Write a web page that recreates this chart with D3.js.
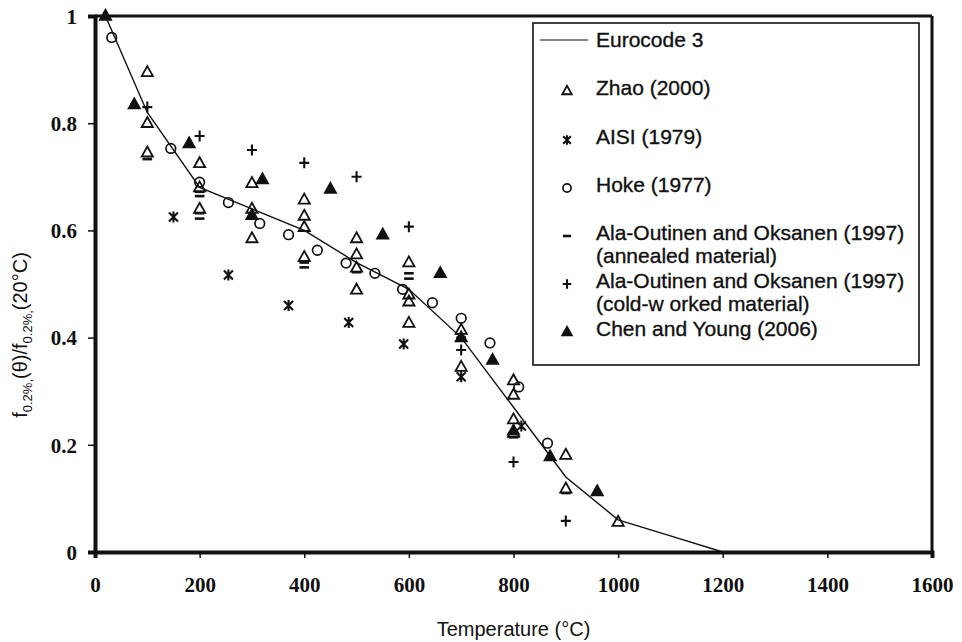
<!DOCTYPE html>
<html>
<head>
<meta charset="utf-8">
<script src="https://cdn.jsdelivr.net/npm/d3@7"></script>
<style>
  body { margin: 0; background: #fff; }
  svg { display: block; }
</style>
</head>
<body>
<svg id="chart" width="962" height="642"></svg>
<script>
// Axis ticks
const xTicks = [0, 200, 400, 600, 800, 1000, 1200, 1400, 1600];
const yTicks = [0, 0.2, 0.4, 0.6, 0.8, 1];
const yTickLabels = ["0", "0.2", "0.4", "0.6", "0.8", "1"];

// Eurocode 3 reduction factor curve (temperature, k0.2)
const eurocodeTemp = [20, 100, 200, 300, 400, 500, 600, 700, 800, 900, 1000, 1100, 1200];
const eurocodeK = [1.00, 0.82, 0.68, 0.64, 0.60, 0.54, 0.49, 0.40, 0.27, 0.14, 0.06, 0.03, 0];

// Test data: [temperature, f0.2(θ)/f0.2(20°C)]
const zhao2000 = [
  [100, 0.895], [100, 0.80], [100, 0.745],
  [200, 0.725], [200, 0.68], [200, 0.64],
  [300, 0.688], [300, 0.64], [300, 0.585],
  [400, 0.657], [400, 0.627], [400, 0.606], [400, 0.55],
  [500, 0.585], [500, 0.555], [500, 0.53], [500, 0.489],
  [600, 0.54], [600, 0.48], [600, 0.467], [600, 0.427],
  [700, 0.414], [700, 0.345],
  [800, 0.32], [800, 0.293], [800, 0.247], [800, 0.222],
  [900, 0.181], [900, 0.118], [1000, 0.056]
];
const aisi1979 = [
  [150, 0.625], [255, 0.517], [370, 0.46], [485, 0.428],
  [590, 0.388], [700, 0.327], [815, 0.235]
];
const hoke1977 = [
  [32, 0.96], [145, 0.753], [200, 0.69], [255, 0.652], [315, 0.613],
  [370, 0.592], [425, 0.563], [480, 0.539], [535, 0.52], [588, 0.49],
  [645, 0.465], [700, 0.436], [755, 0.39], [810, 0.308], [865, 0.203]
];
const alaAnnealed = [
  [100, 0.733], [200, 0.672], [200, 0.664], [200, 0.632], [200, 0.622],
  [400, 0.54], [400, 0.531], [500, 0.522], [600, 0.52], [600, 0.51],
  [700, 0.40], [800, 0.214], [900, 0.11]
];
const alaColdWorked = [
  [100, 0.83], [200, 0.776], [300, 0.75], [400, 0.726], [500, 0.70],
  [600, 0.607], [700, 0.377], [800, 0.168], [900, 0.058]
];
const chenYoung2006 = [
  [20, 1.0], [75, 0.835], [180, 0.762], [300, 0.628], [320, 0.695],
  [450, 0.677], [550, 0.592], [660, 0.52], [700, 0.40], [760, 0.358],
  [800, 0.226], [870, 0.178], [960, 0.113]
];

// Legend entries
const legendLabels = [
  ["Eurocode 3"],
  ["Zhao (2000)"],
  ["AISI (1979)"],
  ["Hoke (1977)"],
  ["Ala-Outinen and Oksanen (1997)", "(annealed material)"],
  ["Ala-Outinen and Oksanen (1997)", "(cold-w orked material)"],
  ["Chen and Young (2006)"]
];

const svg = d3.select("#chart");
const plotLeft = 95, plotRight = 932, plotTop = 16, plotBottom = 552;

const x = d3.scaleLinear().domain([0, 1600]).range([plotLeft, plotRight]);
const y = d3.scaleLinear().domain([0, 1]).range([plotBottom, plotTop]);

const ink = "#111";

// Marker drawing helpers
function drawMarker(g, kind, s) {
  s = s || 1;
  if (kind === "triOpen" || kind === "triFilled") {
    g.append("path")
      .attr("d", `M0,${-6.2 * s}L${5.6 * s},${3.8 * s}L${-5.6 * s},${3.8 * s}Z`)
      .attr("fill", kind === "triFilled" ? ink : "none")
      .attr("stroke", ink).attr("stroke-width", 1.8).attr("stroke-linejoin", "miter");
  } else if (kind === "circle") {
    g.append("circle").attr("r", 4.8 * s)
      .attr("fill", "none").attr("stroke", ink).attr("stroke-width", 1.7);
  } else if (kind === "dash") {
    g.append("line").attr("x1", -4.8 * s).attr("x2", 4.8 * s)
      .attr("stroke", ink).attr("stroke-width", 2.6);
  } else if (kind === "plus") {
    g.append("path")
      .attr("d", `M${-5 * s},0H${5 * s}M0,${-5.5 * s}V${5.5 * s}`)
      .attr("stroke", ink).attr("stroke-width", 2.1);
  } else if (kind === "star") {
    g.append("path")
      .attr("d", `M${-4.5 * s},${-4.5 * s}L${4.5 * s},${4.5 * s}M${4.5 * s},${-4.5 * s}L${-4.5 * s},${4.5 * s}M0,${-5.5 * s}V${5.5 * s}`)
      .attr("stroke", ink).attr("stroke-width", 2.1);
  }
}

// Plot frame
const frame = svg.append("g");
frame.append("line").attr("x1", plotLeft).attr("x2", plotRight).attr("y1", plotTop).attr("y2", plotTop)
  .attr("stroke", ink).attr("stroke-width", 3);
frame.append("line").attr("x1", plotRight).attr("x2", plotRight).attr("y1", plotTop).attr("y2", plotBottom)
  .attr("stroke", ink).attr("stroke-width", 3);

// Axes
const xAxis = d3.axisBottom(x).tickValues(xTicks).tickSize(6).tickFormat(d3.format("d"));
const yAxis = d3.axisLeft(y).tickValues(yTicks).tickSize(7).tickFormat((d, i) => yTickLabels[i]);

const gx = svg.append("g").attr("transform", `translate(0,${plotBottom})`).call(xAxis);
const gy = svg.append("g").attr("transform", `translate(${plotLeft},0)`).call(yAxis);

[gx, gy].forEach(g => {
  g.select(".domain").attr("stroke", ink).attr("stroke-width", 4);
  g.selectAll(".tick line").attr("stroke", ink).attr("stroke-width", 1.5);
  g.selectAll(".tick text")
    .attr("fill", ink)
    .style("font-family", "'Liberation Serif', 'Times New Roman', serif")
    .style("font-weight", "bold")
    .style("font-size", "21px");
});
gx.selectAll(".tick text").attr("dy", "0").attr("y", 40);
gy.selectAll(".tick text").attr("x", -18).attr("dy", "0.35em");

// Axis titles
svg.append("text")
  .attr("x", (plotLeft + plotRight) / 2).attr("y", 636)
  .attr("text-anchor", "middle")
  .style("font-family", "'Liberation Sans', Arial, sans-serif")
  .style("font-size", "20px")
  .attr("fill", ink)
  .text("Temperature (°C)");

const yTitle = svg.append("text")
  .attr("transform", "translate(27,335) rotate(-90)")
  .attr("text-anchor", "middle")
  .style("font-family", "'Liberation Sans', Arial, sans-serif")
  .style("font-size", "20px")
  .attr("fill", ink);
yTitle.append("tspan").text("f");
yTitle.append("tspan").attr("dy", 5).style("font-size", "13px").text("0.2%,");
yTitle.append("tspan").attr("dy", -5).text("(θ)/f");
yTitle.append("tspan").attr("dy", 5).style("font-size", "13px").text("0.2%,");
yTitle.append("tspan").attr("dy", -5).text("(20°C)");

// Eurocode 3 curve
const line = d3.line().x(d => x(d[0])).y(d => y(d[1]));
svg.append("path")
  .datum(eurocodeTemp.map((t, i) => [t, eurocodeK[i]]))
  .attr("d", line)
  .attr("fill", "none").attr("stroke", ink).attr("stroke-width", 1.4);

// Scatter series
const series = [
  { data: zhao2000, kind: "triOpen" },
  { data: aisi1979, kind: "star" },
  { data: hoke1977, kind: "circle" },
  { data: alaAnnealed, kind: "dash" },
  { data: alaColdWorked, kind: "plus" },
  { data: chenYoung2006, kind: "triFilled" }
];
series.forEach(s => {
  s.data.forEach(d => {
    const g = svg.append("g").attr("transform", `translate(${x(d[0])},${y(d[1])})`);
    drawMarker(g, s.kind, 1);
  });
});

// Legend
const legend = svg.append("g");
legend.append("rect")
  .attr("x", 533).attr("y", 23).attr("width", 386).attr("height", 342)
  .attr("fill", "#fff").attr("stroke", ink).attr("stroke-width", 1.6);

const legendKinds = ["line", "triOpen", "star", "circle", "dash", "plus", "triFilled"];
const rowY = [40, 88, 137, 185, 233, 281, 329];
const markerX = 567, textX = 596;

legendLabels.forEach((lbl, i) => {
  const yy = rowY[i];
  if (legendKinds[i] === "line") {
    legend.append("line").attr("x1", 540).attr("x2", 588).attr("y1", yy).attr("y2", yy)
      .attr("stroke", ink).attr("stroke-width", 1.2);
  } else {
    const g = legend.append("g").attr("transform", `translate(${markerX},${yy + 3})`);
    drawMarker(g, legendKinds[i], 0.85);
  }
  lbl.forEach((t, j) => {
    legend.append("text")
      .attr("x", textX).attr("y", yy + 7 + j * 23)
      .style("font-family", "'Liberation Sans', Arial, sans-serif")
      .style("font-size", "21px")
      .attr("fill", ink)
      .attr("stroke", ink).attr("stroke-width", 0.35)
      .text(t);
  });
});
</script>
</body>
</html>
